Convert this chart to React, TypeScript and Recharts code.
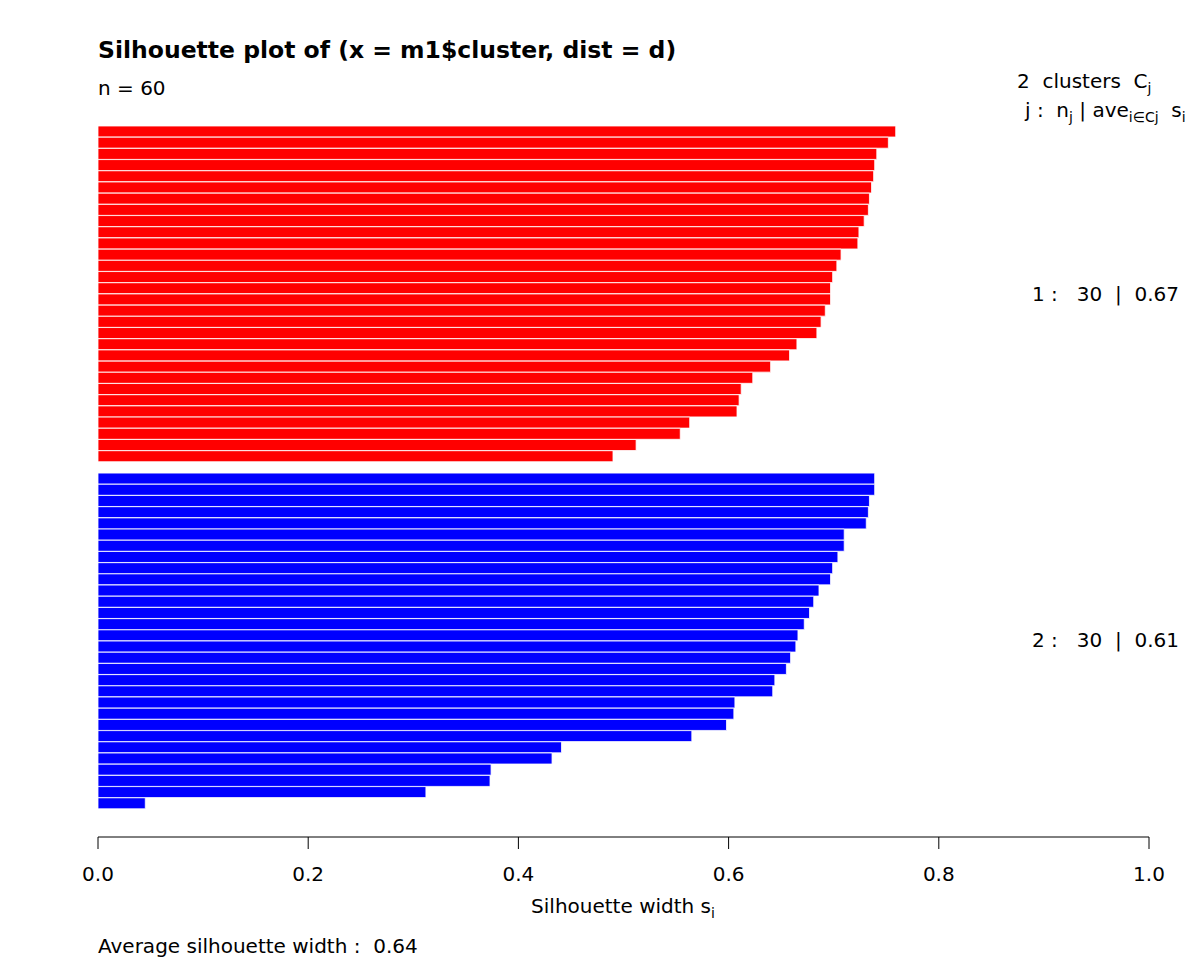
import { BarChart, Bar, XAxis, YAxis, Cell } from 'recharts';

// silhouette widths, sorted within each cluster
const cluster1Widths = [
  0.759, 0.752, 0.741, 0.739, 0.738, 0.736, 0.734, 0.733, 0.729, 0.724,
  0.723, 0.707, 0.703, 0.699, 0.697, 0.697, 0.692, 0.688, 0.684, 0.665,
  0.658, 0.640, 0.623, 0.612, 0.610, 0.608, 0.563, 0.554, 0.512, 0.490,
];
const cluster2Widths = [
  0.739, 0.739, 0.734, 0.733, 0.731, 0.710, 0.710, 0.704, 0.699, 0.697,
  0.686, 0.681, 0.677, 0.672, 0.666, 0.664, 0.659, 0.655, 0.644, 0.642,
  0.606, 0.605, 0.598, 0.565, 0.441, 0.432, 0.374, 0.373, 0.312, 0.045,
];
const clusterLabels = ['1 :   30  |  0.67', '2 :   30  |  0.61'];
const xTicks = [0, 0.2, 0.4, 0.6, 0.8, 1.0];
const clusterColors: Record<number, string> = { 1: '#FF0000', 2: '#0000FF' };

const rows = [
  ...cluster1Widths.map((w, i) => ({ id: `1-${i + 1}`, cluster: 1, width: w })),
  { id: 'gap', cluster: 0, width: null as number | null },
  ...cluster2Widths.map((w, i) => ({ id: `2-${i + 1}`, cluster: 2, width: w })),
];

const FONT = '"DejaVu Sans", sans-serif';

export default function App() {
  return (
    <div style={{ position: 'absolute', left: 0, top: 0, width: 1200, height: 960, background: '#fff', fontFamily: FONT }}>
      <BarChart
        width={1200}
        height={960}
        data={rows}
        layout="vertical"
        margin={{ top: 126, right: 51, bottom: 83, left: 98 }}
        barCategoryGap={0}
      >
        <YAxis type="category" dataKey="id" hide width={0} padding={{ top: 0, bottom: 28 }} />
        <XAxis
          type="number"
          domain={[0, 1]}
          ticks={xTicks}
          interval={0}
          height={40}
          tickFormatter={v => Number(v).toFixed(1)}
          tick={{ fill: '#000', fontSize: 20, fontFamily: FONT }}
          tickSize={12}
          tickMargin={18}
          axisLine={{ stroke: '#000' }}
          tickLine={{ stroke: '#000' }}
        />
        <Bar dataKey="width" isAnimationActive={false} stroke="#fff" strokeWidth={0.8}>
          {rows.map((r, i) => (
            <Cell key={i} fill={clusterColors[r.cluster] || 'none'} />
          ))}
        </Bar>
      </BarChart>

      <svg width={1200} height={960} style={{ position: 'absolute', left: 0, top: 0, pointerEvents: 'none', fontFamily: FONT }}>
        <text x={98} y={58} fontSize={23.5} fontWeight="bold" fill="#000">
          Silhouette plot of (x = m1$cluster, dist = d)
        </text>
        <text x={98} y={95} fontSize={20} fill="#000">n = 60</text>

        <text x={1017} y={88} fontSize={20} fill="#000" style={{ whiteSpace: 'pre' }}>
          {'2  clusters  C'}
          <tspan fontSize={14} dy={5}>j</tspan>
        </text>
        <text x={1025} y={117} fontSize={20} fill="#000" style={{ whiteSpace: 'pre' }}>
          {'j :  n'}
          <tspan fontSize={14} dy={5}>j</tspan>
          <tspan dy={-5}>{' | ave'}</tspan>
          <tspan fontSize={14} dy={5}>{'i∈Cj'}</tspan>
          <tspan dy={-5}>{'  s'}</tspan>
          <tspan fontSize={14} dy={5}>i</tspan>
        </text>

        <text x={1179} y={301} fontSize={20} fill="#000" textAnchor="end" style={{ whiteSpace: 'pre' }}>
          {clusterLabels[0]}
        </text>
        <text x={1179} y={647} fontSize={20} fill="#000" textAnchor="end" style={{ whiteSpace: 'pre' }}>
          {clusterLabels[1]}
        </text>

        <text x={623} y={913} fontSize={20} fill="#000" textAnchor="middle">
          Silhouette width s
          <tspan fontSize={14} dy={5}>i</tspan>
        </text>
        <text x={98} y={953} fontSize={20} fill="#000" style={{ whiteSpace: 'pre' }}>
          {'Average silhouette width :  0.64'}
        </text>
      </svg>
    </div>
  );
}
